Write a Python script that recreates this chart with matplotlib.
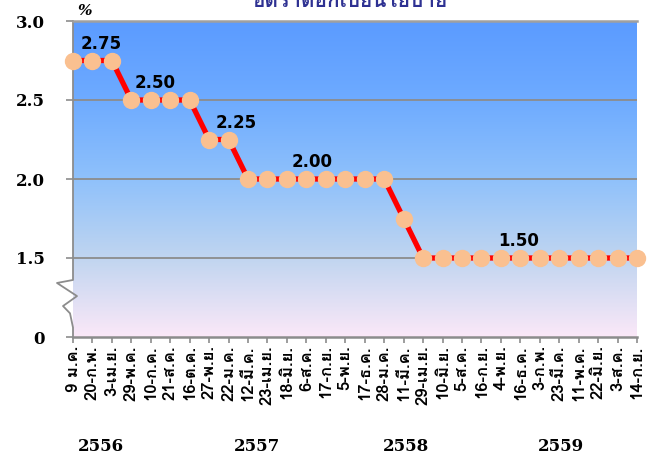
import numpy as np
import matplotlib
matplotlib.use('Agg')
import matplotlib.pyplot as plt
from matplotlib.colors import LinearSegmentedColormap

THAI = ['Loma', 'Noto Sans Thai Looped', 'DejaVu Sans']

# policy rate (%) at each MPC meeting
dates = ['9 ม.ค.', '20-ก.พ.', '3-เม.ย.', '29-พ.ค.', '10-ก.ค.', '21-ส.ค.',
         '16-ต.ค.', '27-พ.ย.', '22-ม.ค.', '12-มี.ค.', '23-เม.ย.', '18-มิ.ย.',
         '6-ส.ค.', '17-ก.ย.', '5-พ.ย.', '17-ธ.ค.', '28-ม.ค.', '11-มี.ค.',
         '29-เม.ย.', '10-มิ.ย.', '5-ส.ค.', '16-ก.ย.', '4-พ.ย.', '16-ธ.ค.',
         '3-ก.พ.', '23-มี.ค.', '11-พ.ค.', '22-มิ.ย.', '3-ส.ค.', '14-ก.ย.']
rates = [2.75, 2.75, 2.75, 2.50, 2.50, 2.50, 2.50, 2.25, 2.25, 2.00,
         2.00, 2.00, 2.00, 2.00, 2.00, 2.00, 2.00, 1.75, 1.50, 1.50,
         1.50, 1.50, 1.50, 1.50, 1.50, 1.50, 1.50, 1.50, 1.50, 1.50]

# labelled rate levels and where they sit along the x axis
level_text = ['2.75', '2.50', '2.25', '2.00', '1.50']
level_vals = [2.75, 2.50, 2.25, 2.00, 1.50]
level_pos = [1.45, 4.2, 8.4, 12.3, 22.9]

years = ['2556', '2557', '2558', '2559']
year_pos = [1.45, 9.45, 17.1, 25.1]

# the axis is broken below 1.5: the bottom of the plot (1.0) is shown as 0
yticks = [1.0, 1.5, 2.0, 2.5, 3.0]
ytick_labels = ['0', '1.5', '2.0', '2.5', '3.0']

GRAY = '#8c8c8c'

fig = plt.figure(figsize=(6.57, 4.57), dpi=100)
ax = fig.add_axes([73 / 657, 120 / 457, 564 / 657, 316 / 457])

x = np.arange(len(rates))
ax.set_xlim(0, len(rates) - 1)
ax.set_ylim(1.0, 3.0)

# background gradient
cmap = LinearSegmentedColormap.from_list('bg', [
    (0.0, '#fbe8f8'), (0.25, '#c0d5f0'), (0.5, '#8fc1fb'),
    (0.75, '#6eabff'), (1.0, '#5b9bff')])
grad = np.linspace(0, 1, 256).reshape(-1, 1)
ax.imshow(grad, extent=[0, len(rates) - 1, 1.0, 3.0], origin='lower',
          aspect='auto', cmap=cmap, zorder=0)

for yv in [1.5, 2.0, 2.5]:
    ax.axhline(yv, color=GRAY, lw=1.3, zorder=1)

ax.plot(x, rates, color='#ff0000', lw=3.8, marker='o', ms=11.5,
        mfc='#fac090', mec='#fac090', zorder=3, clip_on=False)

for t, v, p in zip(level_text, level_vals, level_pos):
    ax.text(p, v + 0.105, t, ha='center', va='center', fontsize=12,
            fontweight='bold', color='black', zorder=4)

ax.set_yticks(yticks)
ax.set_yticklabels(ytick_labels, family='DejaVu Serif', fontweight='bold',
                   fontsize=12)
ax.set_xticks(x)
ax.set_xticklabels(dates, rotation=90, family=THAI, fontweight='bold',
                   fontsize=12)
ax.tick_params(axis='y', length=5, width=1.2, color=GRAY, pad=15)
ax.tick_params(axis='x', length=4, width=1.2, color=GRAY, pad=2)

for s in ['right', 'left']:
    ax.spines[s].set_visible(False)
ax.spines['top'].set_color('#a0a0a0')
ax.spines['top'].set_linewidth(1.8)
ax.spines['bottom'].set_color(GRAY)
ax.spines['bottom'].set_linewidth(1.8)

# left axis line with the break squiggle
w = 564.0
tr = ax.get_yaxis_transform()
bx = [0, 0, 0, -16 / w, 4 / w, -10 / w, -3 / w, 0, 0]
by = [3.0, 1.481, 1.361, 1.342, 1.259, 1.196, 1.15, 1.06, 1.0]
ax.plot(bx, by, color=GRAY, lw=1.3, transform=tr, clip_on=False, zorder=2)

ax.text(0.02, 1.032, '%', transform=ax.transAxes, ha='center', va='center',
        fontsize=11, fontweight='bold', style='italic', family='DejaVu Serif')

xtr = ax.get_xaxis_transform()
for t, p in zip(years, year_pos):
    ax.text(p, -0.345, t, transform=xtr, ha='center', va='center',
            fontsize=12, fontweight='bold', family='DejaVu Serif')

fig.text(350 / 657, 1 - 7 / 457, 'อัตราดอกเบี้ยนโยบาย', ha='center',
         va='baseline', fontsize=15, fontweight='bold', color='#2e3192',
         family=THAI)

fig.savefig('out.png', dpi=100)
